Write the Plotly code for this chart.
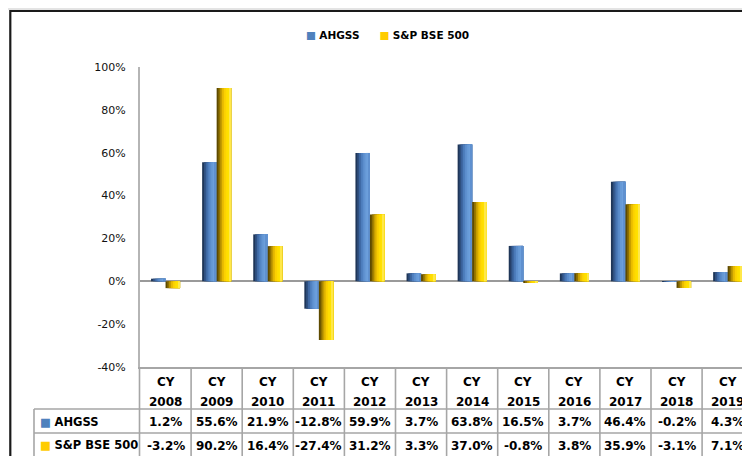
import plotly.graph_objects as go

# ---------------- data ----------------
years = ["2008", "2009", "2010", "2011", "2012", "2013",
         "2014", "2015", "2016", "2017", "2018", "2019"]
ahgss = [1.2, 55.6, 21.9, -12.8, 59.9, 3.7, 63.8, 16.5, 3.7, 46.4, -0.2, 4.3]
bse500 = [-3.2, 90.2, 16.4, -27.4, 31.2, 3.3, 37.0, -0.8, 3.8, 35.9, -3.1, 7.1]
series_names = ["AHGSS", "S&P BSE 500"]
y_ticks = [-40, -20, 0, 20, 40, 60, 80, 100]

# ---------------- style ----------------
FONT = "DejaVu Sans"
BLUE = "#4F81BD"
YELLOW = "#FFCC00"
blue_shades = ["#1f3658", "#2f5080", "#3e68a3", "#4d7dbc", "#5b8dcc",
               "#6699d6", "#6c9fdc", "#5f90cf"]
yellow_shades = ["#5e4a00", "#8f7100", "#c49c00", "#e8bb00", "#fbd000",
                 "#ffdc00", "#ffe200", "#ffe84a"]
LINE_GRAY = "#a6a6a6"

# page offset (default body margin of the html page)
OFF = 8
PAGE_W, PAGE_H = 750, 456
W = PAGE_W - OFF
H = PAGE_H - OFF

# plot area in page pixels
PL, PR, PT, PB = 140, 750, 67, 367
ML = PL - OFF
MT = PT - OFF
MR = 0
MB = H - (PB - OFF)
PW = W - ML - MR
PH = H - MT - MB
CAT_PX = 51.1


def px_to_paper_x(px):
    return (px - PL) / PW


def py_to_paper_y(py):
    return (PB - py) / PH


bar_w = 0.284  # in category units

fig = go.Figure()


def add_shaded(values, base_offset, shades, name):
    n = len(shades)
    for k, col in enumerate(shades):
        fig.add_trace(go.Bar(
            x=years, y=values,
            offset=base_offset + k * bar_w / n,
            width=bar_w - k * bar_w / n,
            marker=dict(color=col, line=dict(width=0)),
            name=name, showlegend=False, hoverinfo="y",
        ))


add_shaded(ahgss, -bar_w, blue_shades, series_names[0])
add_shaded(bse500, 0.0, yellow_shades, series_names[1])

shapes = []
annotations = []

# outer frame
shapes.append(dict(type="line", xref="paper", yref="paper",
                   x0=px_to_paper_x(0), x1=px_to_paper_x(PAGE_W + 5),
                   y0=py_to_paper_y(9), y1=py_to_paper_y(9),
                   line=dict(color="#c8c8c8", width=1)))
shapes.append(dict(type="rect", xref="paper", yref="paper",
                   x0=px_to_paper_x(10.3), x1=px_to_paper_x(PAGE_W + 20),
                   y0=py_to_paper_y(PAGE_H + 20), y1=py_to_paper_y(11),
                   line=dict(color="#1a1a1a", width=2.2), fillcolor="rgba(0,0,0,0)"))

# ---------------- data table ----------------
y_row1_top = py_to_paper_y(409)
y_row2_top = py_to_paper_y(433)
y_bottom = py_to_paper_y(PAGE_H + 10)
x_label_left = px_to_paper_x(34)

for yy in (y_row1_top, y_row2_top):
    shapes.append(dict(type="line", xref="paper", yref="paper",
                       x0=x_label_left, x1=1.02, y0=yy, y1=yy,
                       line=dict(color=LINE_GRAY, width=1.6)))
shapes.append(dict(type="line", xref="paper", yref="paper",
                   x0=x_label_left, x1=x_label_left, y0=y_row1_top, y1=y_bottom,
                   line=dict(color=LINE_GRAY, width=1.6)))
shapes.append(dict(type="line", xref="paper", yref="paper",
                   x0=px_to_paper_x(139.5), x1=px_to_paper_x(139.5), y0=0, y1=y_bottom,
                   line=dict(color=LINE_GRAY, width=1.6)))
for i in range(len(years) - 1):
    shapes.append(dict(type="line", xref="x", yref="paper",
                       x0=i + 0.5, x1=i + 0.5, y0=0, y1=y_bottom,
                       line=dict(color=LINE_GRAY, width=1.6)))

cell_font = dict(family=FONT, size=12, color="#000")
for i, yr in enumerate(years):
    for py, txt in ((382, "<b>CY</b>"), (401.5, f"<b>{yr}</b>"),
                    (422, f"<b>{ahgss[i]:.1f}%</b>"), (445.5, f"<b>{bse500[i]:.1f}%</b>")):
        annotations.append(dict(x=i, y=py_to_paper_y(py), xref="x", yref="paper",
                                xanchor="center", yanchor="middle",
                                text=txt, showarrow=False, font=cell_font))

for name, col, py in ((series_names[0], BLUE, 421.5), (series_names[1], YELLOW, 445)):
    annotations.append(dict(x=px_to_paper_x(38), y=py_to_paper_y(py), xref="paper", yref="paper",
                            xanchor="left", yanchor="middle",
                            text=f"<span style='color:{col}'>■</span> <b>{name}</b>",
                            showarrow=False,
                            font=dict(family=FONT, size=11.5, color="#000")))

# legend (top)
annotations.append(dict(x=px_to_paper_x(304), y=py_to_paper_y(35), xref="paper", yref="paper",
                        xanchor="left", yanchor="middle",
                        text=(f"<span style='color:{BLUE}'>■</span> <b>{series_names[0]}</b>"
                              f"      <span style='color:{YELLOW}'>■</span> <b>{series_names[1]}</b>"),
                        showarrow=False,
                        font=dict(family=FONT, size=10.5, color="#000")))

fig.update_layout(
    width=W, height=H,
    margin=dict(l=ML, r=MR, t=MT, b=MB, autoexpand=False),
    paper_bgcolor="white", plot_bgcolor="white",
    barmode="overlay",
    showlegend=False,
    shapes=shapes,
    annotations=annotations,
    xaxis=dict(type="category", range=[-0.5, -0.5 + PW / CAT_PX],
               showticklabels=False, ticks="", showgrid=False,
               showline=True, linecolor=LINE_GRAY, linewidth=2,
               zeroline=False, fixedrange=True),
    yaxis=dict(range=[-40, 100], tickvals=y_ticks,
               ticktext=[f"{v}%" for v in y_ticks],
               showgrid=False, showline=True, linecolor="#b5b5b5", linewidth=2,
               zeroline=True, zerolinecolor="#9a9a9a", zerolinewidth=2,
               layer="above traces",
               ticks="", ticklabelstandoff=10,
               tickfont=dict(family=FONT, size=11, color="#111"),
               fixedrange=True),
)

fig.write_html("out.html")
